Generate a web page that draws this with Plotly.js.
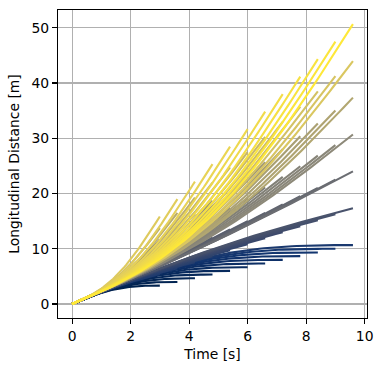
<!DOCTYPE html>
<html>
<head>
<meta charset="utf-8">
<script src="https://cdn.plot.ly/plotly-3.0.1.min.js"></script>
<style>
  html, body { margin: 0; padding: 0; background: #fff; }
  #chart { width: 383px; height: 371px; }
</style>
</head>
<body>
<div id="chart"></div>
<script>
// values
const startSpeed = 2.22;                       // m/s, shared by every trajectory
const endTimes = [3.0, 3.6, 4.2, 4.8, 5.4, 6.0, 6.6, 7.2, 7.8, 8.4, 9.0, 9.6];   // s
const endSpeeds = [0, 1.39, 2.78, 4.17, 5.56, 6.94, 8.33];                      // m/s
const xTicks = [0, 2, 4, 6, 8, 10];
const yTicks = [0, 10, 20, 30, 40, 50];

// cividis stops (matplotlib)
const cividis = ['#00224e','#123570','#3b496c','#575d6d','#707173','#8a8779','#a69d75','#c4b56c','#e4cf5b','#fee838'];

function hexToRgb(h){ return [1,3,5].map(k => parseInt(h.slice(k,k+2),16)); }
function cmap(f){
  const p = f*(cividis.length-1);
  const i = Math.min(Math.floor(p), cividis.length-2);
  const u = p - i;
  const a = hexToRgb(cividis[i]), b = hexToRgb(cividis[i+1]);
  const c = a.map((v,k) => Math.round(v + (b[k]-v)*u));
  return `rgb(${c[0]},${c[1]},${c[2]})`;
}

// quartic velocity-keeping profile: s(0)=0, v(0)=v0, a(0)=0, v(T)=vT, a(T)=0
function profile(v0, vT, T){
  const a4 = (v0 - vT)/(2*T*T*T);
  const a3 = -(v0 - vT)/(T*T);
  const t = [], s = [];
  const n = 60;
  for (let k=0;k<=n;k++){
    const tt = T*k/n;
    t.push(tt);
    s.push(v0*tt + a3*tt*tt*tt + a4*tt*tt*tt*tt);
  }
  return {t, s};
}

const total = endTimes.length*endSpeeds.length;
const traces = [];
endSpeeds.forEach((vT, si) => {
  endTimes.forEach((T, ti) => {
    const idx = si*endTimes.length + ti;
    const p = profile(startSpeed, vT, T);
    traces.push({
      x: p.t, y: p.s, mode: 'lines', type: 'scatter',
      line: {color: cmap(idx/(total-1)), width: 2.1},
      hoverinfo: 'skip', showlegend: false
    });
  });
});

const font = {family: 'DejaVu Sans, sans-serif', size: 13.9, color: '#000'};
const axisBase = {
  showline: true, mirror: true, linecolor: '#000', linewidth: 1.1,
  ticks: 'outside', ticklen: 4.9, tickwidth: 1.1, tickcolor: '#000',
  showgrid: true, gridcolor: '#b0b0b0', gridwidth: 1.1,
  zeroline: false, tickfont: font, automargin: false
};

const layout = {
  width: 383, height: 371,
  margin: {l: 57.7, r: 15.7, t: 10, b: 52.5},
  paper_bgcolor: '#fff', plot_bgcolor: '#fff',
  font: font,
  xaxis: Object.assign({}, axisBase, {
    range: [-0.48, 10.08], tickvals: xTicks, ticktext: xTicks.map(String),
    title: {text: 'Time [s]', font: font, standoff: 6}
  }),
  yaxis: Object.assign({}, axisBase, {
    range: [-2.53, 53.2], tickvals: yTicks, ticktext: yTicks.map(String),
    title: {text: 'Longitudinal Distance [m]', font: font, standoff: 8}
  })
};

Plotly.newPlot('chart', traces, layout, {staticPlot: true, displayModeBar: false});
</script>
</body>
</html>
